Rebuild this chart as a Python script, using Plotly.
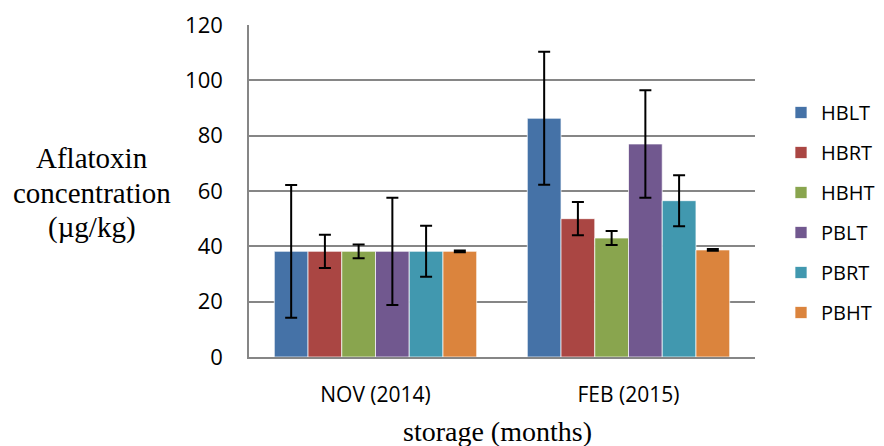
import plotly.graph_objects as go

categories = ["NOV (2014)", "FEB (2015)"]
series_names = ["HBLT", "HBRT", "HBHT", "PBLT", "PBRT", "PBHT"]
HBLT = [38.2, 86.3]
HBRT = [38.2, 50.0]
HBHT = [38.2, 43.0]
PBLT = [38.2, 77.0]
PBRT = [38.2, 56.5]
PBHT = [38.2, 38.7]
HBLT_err = [24.0, 24.0]
HBRT_err = [6.0, 6.0]
HBHT_err = [2.5, 2.5]
PBLT_err = [19.4, 19.4]
PBRT_err = [9.2, 9.2]
PBHT_err = [0.3, 0.3]
y_ticks = [0, 20, 40, 60, 80, 100, 120]
y_title_lines = ["Aflatoxin", "concentration", "(µg/kg)"]

values = [HBLT, HBRT, HBHT, PBLT, PBRT, PBHT]
errors = [HBLT_err, HBRT_err, HBHT_err, PBLT_err, PBRT_err, PBHT_err]
colors = ["#4572A7", "#AA4643", "#89A54E", "#71588F", "#4198AF", "#DB843D"]

SANS = "Open Sans"
SERIF = "Liberation Serif"

fig = go.Figure()
for name, vals, errs, col in zip(series_names, values, errors, colors):
    fig.add_trace(go.Bar(
        name=name, x=categories, y=vals, legendgroup=name,
        marker=dict(color=col, line=dict(color="rgba(255,255,255,0.7)", width=1)),
        error_y=dict(type="data", array=errs, symmetric=True, color="black",
                     thickness=2, width=6),
    ))

# page body has an 8px margin, so the figure is drawn 8px smaller and offset
OFF = 8
W, H = 884 - OFF, 446 - OFF
L, R, T, B = 249 - OFF, 129, 25 - OFF, 89
pw, ph = W - L - R, H - T - B

fig.update_layout(
    width=W, height=H,
    margin=dict(l=L, r=R, t=T, b=B, autoexpand=False),
    paper_bgcolor="white", plot_bgcolor="white",
    barmode="group", bargap=0.2, bargroupgap=0,
    font=dict(family=SANS, size=21, color="black"),
    showlegend=True,
    legend=dict(xref="container", yref="container",
                x=(781 - OFF) / W, xanchor="left", y=1 - (93 - OFF) / H, yanchor="top",
                font=dict(family=SANS, size=20, color="black"),
                tracegroupgap=11, bgcolor="rgba(0,0,0,0)", maxheight=1),
    xaxis=dict(showgrid=False, showline=True, linecolor="#868686", linewidth=1.5,
               ticks="outside", ticklen=18, tickcolor="rgba(0,0,0,0)",
               tickfont=dict(family=SANS, size=21), automargin=False),
    yaxis=dict(range=[0, 120], tickvals=y_ticks, showgrid=True, gridcolor="#868686",
               gridwidth=1.5, showline=True, linecolor="#868686", linewidth=1.5,
               zeroline=False, ticks="outside", ticklen=20, tickcolor="rgba(0,0,0,0)",
               tickfont=dict(family=SANS, size=22), automargin=False),
)

for line, yc in zip(y_title_lines, [158, 193, 227]):
    fig.add_annotation(text=line, xref="paper", yref="paper",
                       x=(92 - 249) / pw, y=(357 - yc) / ph, xanchor="center", yanchor="middle",
                       showarrow=False, font=dict(family=SERIF, size=29, color="black"))
fig.add_annotation(text="storage (months)", xref="paper", yref="paper",
                   x=(497 - 249) / pw, y=(357 - 431) / ph, xanchor="center", yanchor="middle",
                   showarrow=False, font=dict(family=SERIF, size=28, color="black"))

fig.write_html("out.html")
